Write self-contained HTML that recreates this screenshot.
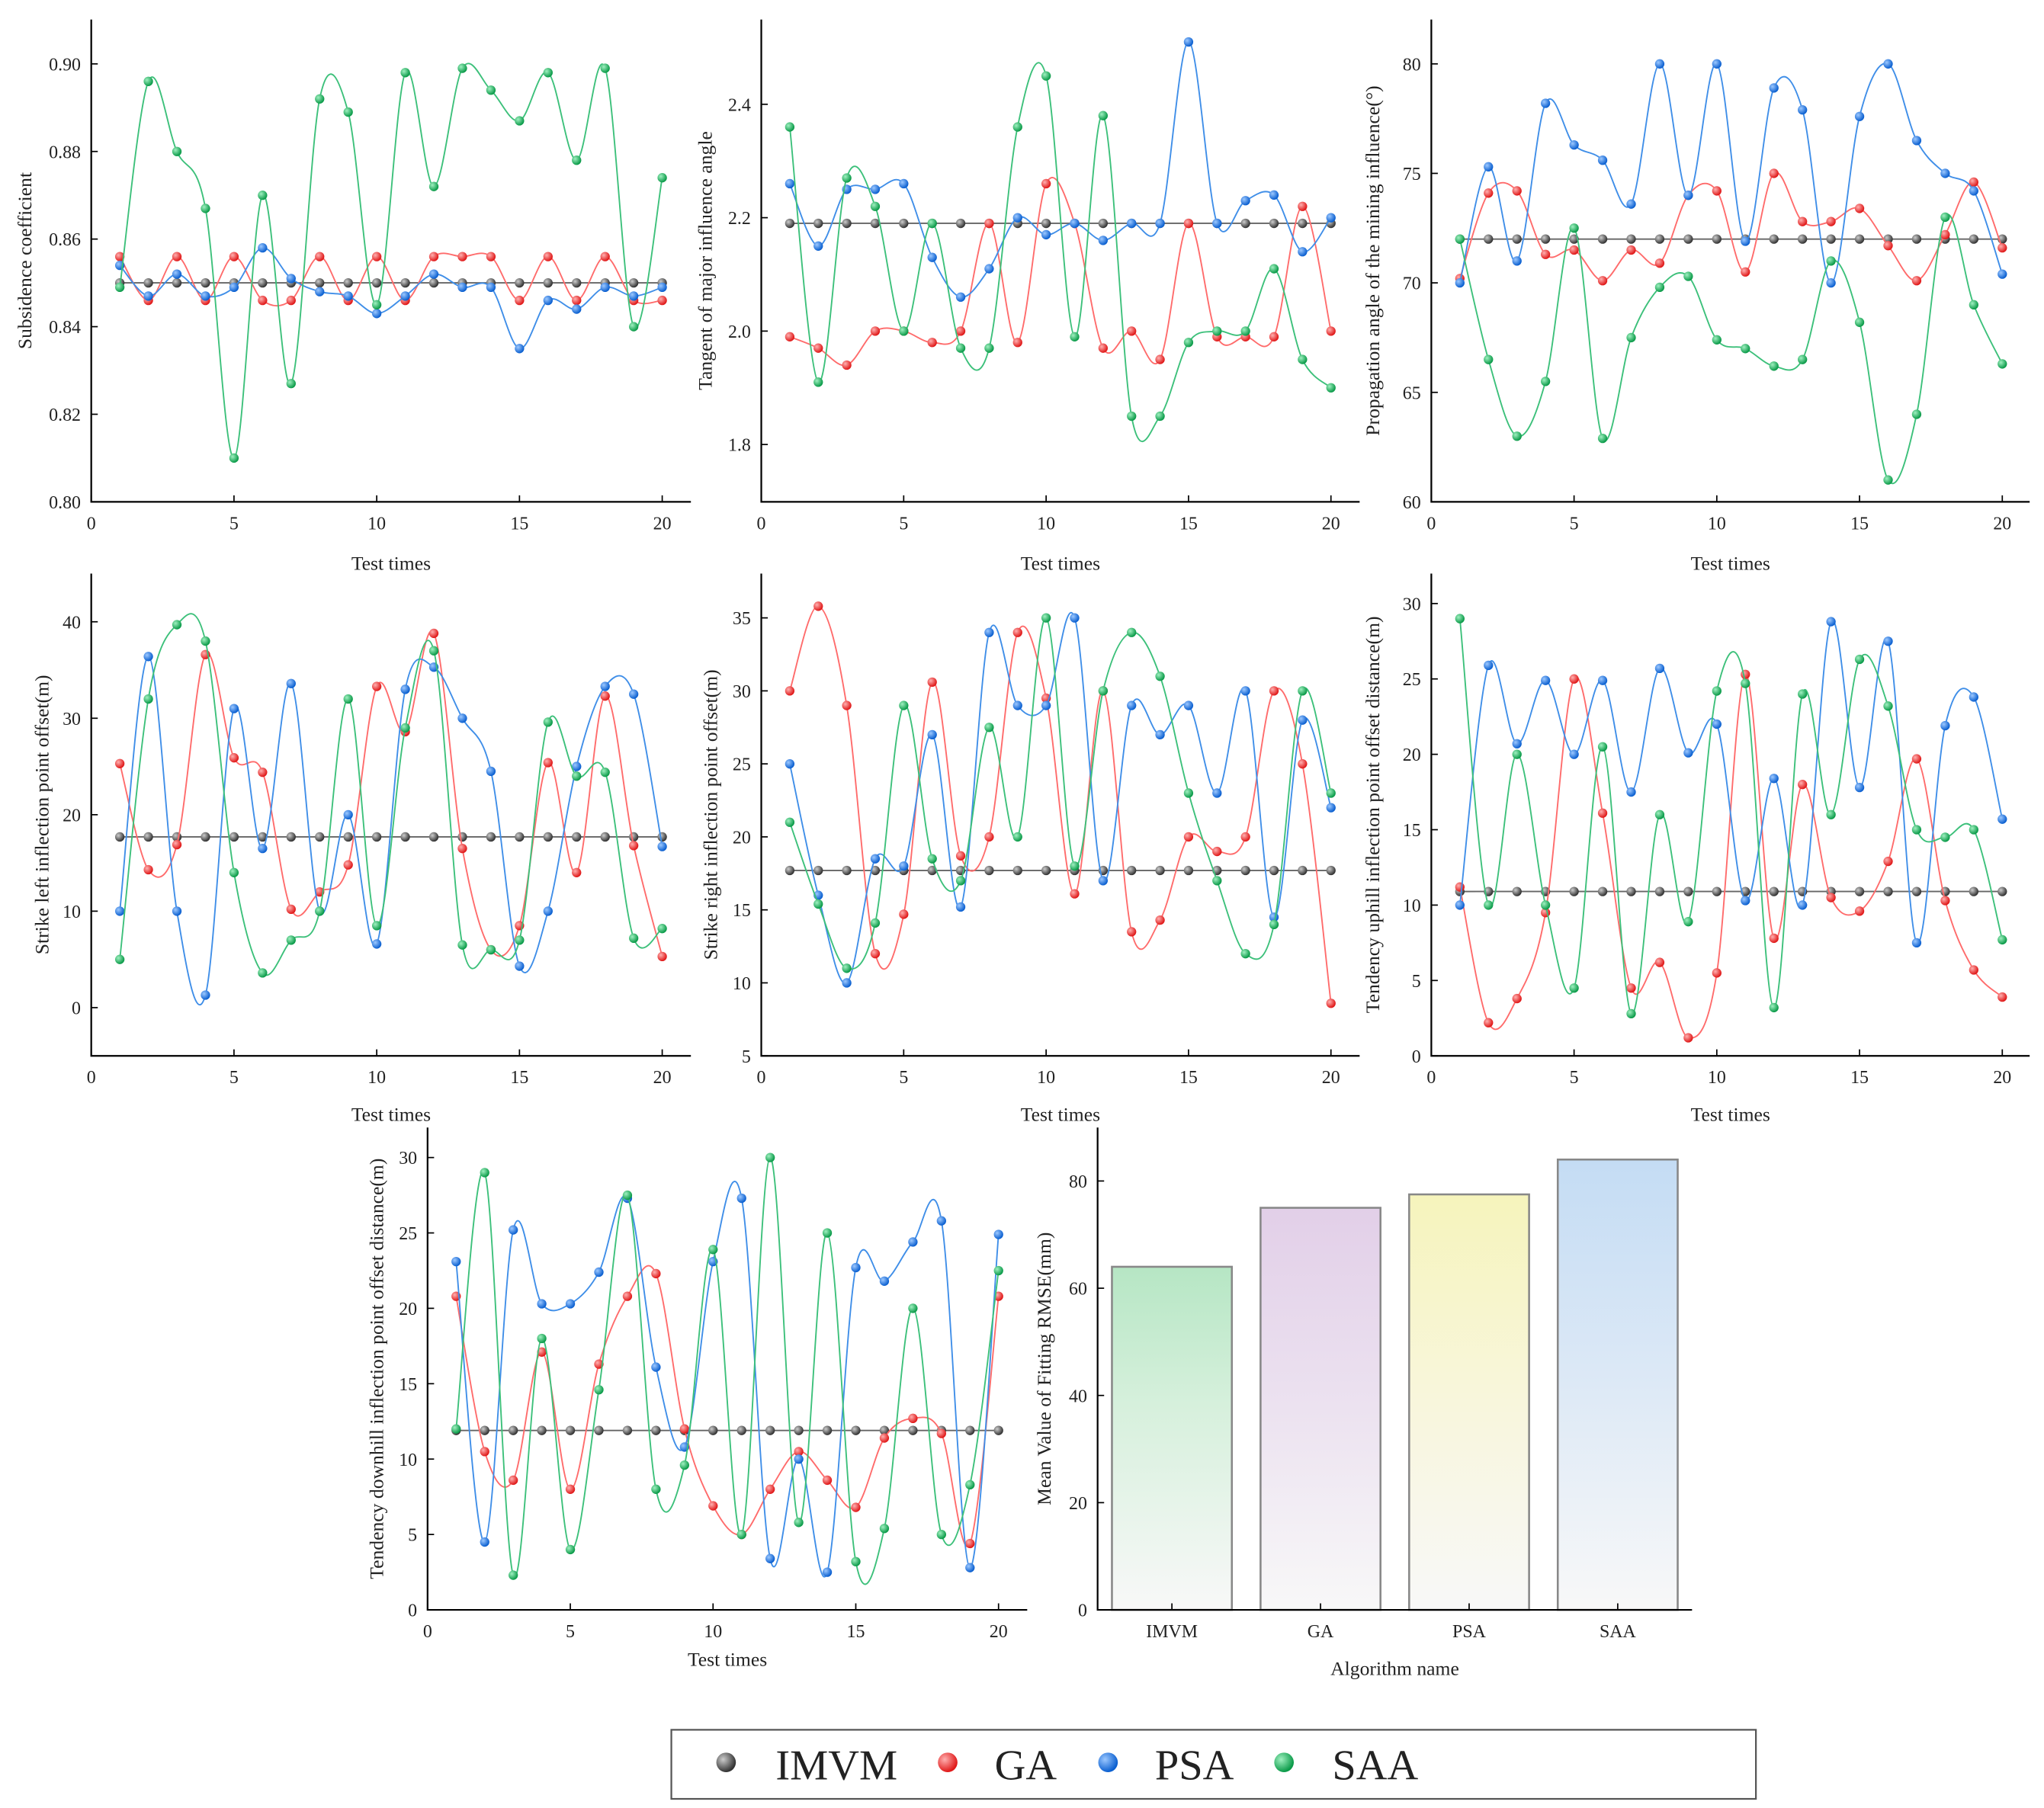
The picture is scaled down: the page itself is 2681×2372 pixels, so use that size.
<!DOCTYPE html>
<html><head><meta charset="utf-8"><style>
html,body{margin:0;padding:0;background:#fff}
svg{display:block}
text{font-family:"Liberation Serif",serif;fill:#222}
</style></head><body>
<svg id="chart" xmlns="http://www.w3.org/2000/svg" width="2681" height="2372" viewBox="0 0 1568 1387" preserveAspectRatio="none">
<defs>
<radialGradient id="gIMVM" cx="35%" cy="35%" r="65%"><stop offset="0" stop-color="#ccc"/><stop offset="1" stop-color="#333"/></radialGradient>
<radialGradient id="gGA" cx="35%" cy="35%" r="65%"><stop offset="0" stop-color="#ffb0b0"/><stop offset="1" stop-color="#e01818"/></radialGradient>
<radialGradient id="gPSA" cx="35%" cy="35%" r="65%"><stop offset="0" stop-color="#9cc8ff"/><stop offset="1" stop-color="#0a5fd0"/></radialGradient>
<radialGradient id="gSAA" cx="35%" cy="35%" r="65%"><stop offset="0" stop-color="#9ff0c0"/><stop offset="1" stop-color="#0a9a48"/></radialGradient>
<linearGradient id="b0" x1="0" y1="0" x2="0" y2="1"><stop offset="0" stop-color="#b6e6c4"/><stop offset="0.4" stop-color="#d6f0dc"/><stop offset="1" stop-color="#f8f8f8"/></linearGradient>
<linearGradient id="b1" x1="0" y1="0" x2="0" y2="1"><stop offset="0" stop-color="#e2cfe8"/><stop offset="0.5" stop-color="#ece2f0"/><stop offset="1" stop-color="#f8f8f8"/></linearGradient>
<linearGradient id="b2" x1="0" y1="0" x2="0" y2="1"><stop offset="0" stop-color="#f6f4bc"/><stop offset="0.5" stop-color="#f8f6dc"/><stop offset="1" stop-color="#f8f8f8"/></linearGradient>
<linearGradient id="b3" x1="0" y1="0" x2="0" y2="1"><stop offset="0" stop-color="#c4dcf4"/><stop offset="0.5" stop-color="#dde9f6"/><stop offset="1" stop-color="#f8f8f8"/></linearGradient>
</defs>
</svg>
<script>
const xVals=[1,2,3,4,5,6,7,8,9,10,11,12,13,14,15,16,17,18,19,20];
const p1IMVM=Array(20).fill(0.85);
const p1GA=[.856,.846,.856,.846,.856,.846,.846,.856,.846,.856,.846,.856,.856,.856,.846,.856,.846,.856,.846,.846];
const p1PSA=[.854,.847,.852,.847,.849,.858,.851,.848,.847,.843,.847,.852,.849,.849,.835,.846,.844,.849,.847,.849];
const p1SAA=[.849,.896,.880,.867,.810,.870,.827,.892,.889,.845,.898,.872,.899,.894,.887,.898,.878,.899,.840,.874];
const p2IMVM=Array(20).fill(2.19);
const p2GA=[1.99,1.97,1.94,2.0,2.0,1.98,2.0,2.19,1.98,2.26,2.19,1.97,2.0,1.95,2.19,1.99,1.99,1.99,2.22,2.0];
const p2PSA=[2.26,2.15,2.25,2.25,2.26,2.13,2.06,2.11,2.2,2.17,2.19,2.16,2.19,2.19,2.51,2.19,2.23,2.24,2.14,2.2];
const p2SAA=[2.36,1.91,2.27,2.22,2.0,2.19,1.97,1.97,2.36,2.45,1.99,2.38,1.85,1.85,1.98,2.0,2.0,2.11,1.95,1.9];
const p3IMVM=Array(20).fill(72);
const p3GA=[70.2,74.1,74.2,71.3,71.5,70.1,71.5,70.9,74.0,74.2,70.5,75.0,72.8,72.8,73.4,71.7,70.1,72.2,74.6,71.6];
const p3PSA=[70,75.3,71,78.2,76.3,75.6,73.6,80,74,80,71.9,78.9,77.9,70,77.6,80,76.5,75,74.2,70.4];
const p3SAA=[72,66.5,63,65.5,72.5,62.9,67.5,69.8,70.3,67.4,67,66.2,66.5,71,68.2,61,64,73,69,66.3];
const p4IMVM=Array(20).fill(17.7);
const p4GA=[25.3,14.3,16.9,36.6,25.9,24.4,10.2,12,14.8,33.3,28.6,38.8,16.5,6,8.5,25.4,14,32.3,16.8,5.3];
const p4PSA=[10,36.4,10,1.3,31,16.5,33.6,10,20,6.6,33,35.3,30,24.5,4.3,10,25,33.3,32.5,16.7];
const p4SAA=[5,32,39.7,38,14,3.6,7,10,32,8.5,29,37,6.5,6,7,29.6,24,24.4,7.2,8.2];
const p5IMVM=Array(20).fill(17.7);
const p5GA=[30,35.8,29,12,14.7,30.6,18.7,20,34,29.5,16.1,30,13.5,14.3,20,19,20,30,25,8.6];
const p5PSA=[25,16,10,18.5,18,27,15.2,34,29,29,35,17,29,27,29,23,30,14.5,28,22];
const p5SAA=[21,15.4,11,14.1,29,18.5,17,27.5,20,35,18,30,34,31,23,17,12,14,30,23];
const p6IMVM=Array(20).fill(10.9);
const p6GA=[11.2,2.2,3.8,9.5,25,16.1,4.5,6.2,1.2,5.5,25.3,7.8,18,10.5,9.6,12.9,19.7,10.3,5.7,3.9];
const p6PSA=[10,25.9,20.7,24.9,20,24.9,17.5,25.7,20.1,22,10.3,18.4,10,28.8,17.8,27.5,7.5,21.9,23.8,15.7];
const p6SAA=[29,10,20,10,4.5,20.5,2.8,16,8.9,24.2,24.7,3.2,24,16,26.3,23.2,15,14.5,15,7.7];
const p7IMVM=Array(20).fill(11.9);
const p7GA=[20.8,10.5,8.6,17.1,8,16.3,20.8,22.3,12,6.9,5,8,10.5,8.6,6.8,11.4,12.7,11.7,4.4,20.8];
const p7PSA=[23.1,4.5,25.2,20.3,20.3,22.4,27.3,16.1,10.8,23.1,27.3,3.4,10,2.5,22.7,21.8,24.4,25.8,2.8,24.9];
const p7SAA=[12,29,2.3,18,4,14.6,27.5,8,9.6,23.9,5,30,5.8,25,3.2,5.4,20,5,8.3,22.5];
const barCats=["IMVM","GA","PSA","SAA"];
const barVals=[64,75,77.5,84];
const barTicks=[0,20,40,60,80];

const NS="http://www.w3.org/2000/svg";
const svg=document.getElementById('chart');
function mk(tag,attrs,parent,txt){const e=document.createElementNS(NS,tag);for(const k in attrs)e.setAttribute(k,attrs[k]);if(txt!==undefined)e.textContent=txt;(parent||svg).appendChild(e);return e;}
const lineCol={IMVM:"#666",GA:"#ff6b6b",PSA:"#3f8ee8",SAA:"#3cc07a"};

function spline(pts){let d="M"+pts[0][0]+","+pts[0][1];for(let i=0;i<pts.length-1;i++){const p0=pts[Math.max(0,i-1)],p1=pts[i],p2=pts[i+1],p3=pts[Math.min(pts.length-1,i+2)];const c1=[p1[0]+(p2[0]-p0[0])/6,p1[1]+(p2[1]-p0[1])/6],c2=[p2[0]-(p3[0]-p1[0])/6,p2[1]-(p3[1]-p1[1])/6];d+=" C"+c1[0].toFixed(1)+","+c1[1].toFixed(1)+" "+c2[0].toFixed(1)+","+c2[1].toFixed(1)+" "+p2[0].toFixed(1)+","+p2[1].toFixed(1);}return d;}

function panel(c){
 const g=mk('g',{},svg);
 
 
 const sx=v=>c.l+(c.x20-c.l)*v/20;
 const sy=v=>c.pa+(c.pb-c.pa)*(v-c.va)/(c.vb-c.va);
 // series
 const series=[["IMVM",c.d[0]],["GA",c.d[1]],["PSA",c.d[2]],["SAA",c.d[3]]];
 series.forEach(([nm,arr])=>{
  const pts=arr.map((v,i)=>[sx(xVals[i]),sy(v)]);
  const p=mk('path',{d:spline(pts),fill:"none",stroke:lineCol[nm],"stroke-width":1.1},g);
  
  
  pts.forEach(q=>{const m=mk('circle',{cx:q[0],cy:q[1],r:3.6,fill:"url(#g"+nm+")"},g);
   
   });
 });
 // axes
 const ax=mk('path',{d:`M${c.l},${c.t} V${c.b} H${c.r}`,fill:"none",stroke:"#000","stroke-width":1.3},g);
 
 
 for(let v=0;v<=20;v+=5){const x=sx(v);mk('line',{x1:x,x2:x,y1:c.b,y2:c.b-5,stroke:"#000"},g);
  const t=mk('text',{x:x,y:c.b+21,"font-size":14,"text-anchor":"middle"},g,String(v));
  }
 c.ticks.forEach(v=>{const y=sy(v);mk('line',{x1:c.l,x2:c.l+5,y1:y,y2:y,stroke:"#000"},g);
  const t=mk('text',{x:c.l-8,y:y+5,"font-size":14,"text-anchor":"end"},g,c.fmt?c.fmt(v):String(v));
  });
 const xt=mk('text',{x:(c.l+c.r)/2,y:c.xty,"font-size":15,"text-anchor":"middle"},g,"Test times");
 
 const ym=(c.t+c.b)/2;
 const yt=mk('text',{x:c.ylx,y:ym,"font-size":15,"text-anchor":"middle",transform:`rotate(-90 ${c.ylx} ${ym})`},g,c.ylabel);
 
}
panel({name:'subsidence-panel',l:70,r:530,t:15,b:385,x20:508,va:.8,pa:385,vb:.9,pb:49,ticks:[.80,.82,.84,.86,.88,.90],fmt:v=>v.toFixed(2),xty:437,ylx:24,ylabel:"Subsidence coefficient",d:[p1IMVM,p1GA,p1PSA,p1SAA]});
panel({name:'tangent-panel',l:584,r:1043,t:15,b:385,x20:1021,va:1.8,pa:341,vb:2.4,pb:80,ticks:[1.8,2.0,2.2,2.4],fmt:v=>v.toFixed(1),xty:437,ylx:546,ylabel:"Tangent of major influence angle",d:[p2IMVM,p2GA,p2PSA,p2SAA]});
panel({name:'propagation-panel',l:1098,r:1557,t:15,b:385,x20:1536,va:60,pa:385,vb:80,pb:49,ticks:[60,65,70,75,80],xty:437,ylx:1058,ylabel:"Propagation angle of the mining influence(°)",d:[p3IMVM,p3GA,p3PSA,p3SAA]});
panel({name:'strike-left-panel',l:70,r:530,t:440,b:810,x20:508,va:0,pa:773,vb:40,pb:477,ticks:[0,10,20,30,40],xty:860,ylx:37,ylabel:"Strike left inflection point offset(m)",d:[p4IMVM,p4GA,p4PSA,p4SAA]});
panel({name:'strike-right-panel',l:584,r:1043,t:440,b:810,x20:1021,va:5,pa:810,vb:35,pb:474,ticks:[5,10,15,20,25,30,35],xty:860,ylx:550,ylabel:"Strike right inflection point offset(m)",d:[p5IMVM,p5GA,p5PSA,p5SAA]});
panel({name:'uphill-panel',l:1098,r:1557,t:440,b:810,x20:1536,va:0,pa:810,vb:30,pb:463,ticks:[0,5,10,15,20,25,30],xty:860,ylx:1058,ylabel:"Tendency uphill inflection point offset distance(m)",d:[p6IMVM,p6GA,p6PSA,p6SAA]});
panel({name:'downhill-panel',l:328,r:788,t:865,b:1235,x20:766,va:0,pa:1235,vb:30,pb:888,ticks:[0,5,10,15,20,25,30],xty:1278,ylx:294,ylabel:"Tendency downhill inflection point offset distance(m)",d:[p7IMVM,p7GA,p7PSA,p7SAA]});

// bar chart
(function(){
 const g=mk('g',{},svg);
 
 
 const l=842,r=1298,t=865,b=1235;
 const sy=v=>b-(b-906)*v/80;
 const band=(r-l)/4;
 barVals.forEach((v,i)=>{const cx=l+band*(i+0.5),w=92;
  const bar=mk('rect',{x:cx-w/2,y:sy(v),width:w,height:b-sy(v),fill:`url(#b${i})`,stroke:"#888","stroke-width":1.5},g);
  
  
  mk('line',{x1:cx,x2:cx,y1:b,y2:b-5,stroke:"#000"},g);
  const t=mk('text',{x:cx,y:b+21,"font-size":14,"text-anchor":"middle"},g,barCats[i]);
  });
 const ax=mk('path',{d:`M${l},${t} V${b} H${r}`,fill:"none",stroke:"#000","stroke-width":1.3},g);
 
 barTicks.forEach(v=>{const y=sy(v);mk('line',{x1:l,x2:l+5,y1:y,y2:y,stroke:"#000"},g);
  const t=mk('text',{x:l-8,y:y+5,"font-size":14,"text-anchor":"end"},g,String(v));
  });
 const xt=mk('text',{x:1070,y:1285,"font-size":15,"text-anchor":"middle"},g,"Algorithm name");
 
 const yt=mk('text',{x:806,y:1050,"font-size":15,"text-anchor":"middle",transform:"rotate(-90 806 1050)"},g,"Mean Value of Fitting RMSE(mm)");
 
})();

// legend
(function(){
 const g=mk('g',{},svg);
 
 
 mk('rect',{x:515,y:1327,width:832,height:53,fill:"#fff",stroke:"#555","stroke-width":1.3},g);
 const items=[["IMVM",557,595],["GA",727,763],["PSA",850,886],["SAA",985,1022]];
 items.forEach(([nm,mx,tx])=>{
  const e=mk('g',{},g);
  
  
  mk('circle',{cx:mx,cy:1352,r:7.5,fill:`url(#g${nm})`},e);
  mk('text',{x:tx,y:1365,"font-size":33},e,nm);
 });
})();
</script>
</body></html>
